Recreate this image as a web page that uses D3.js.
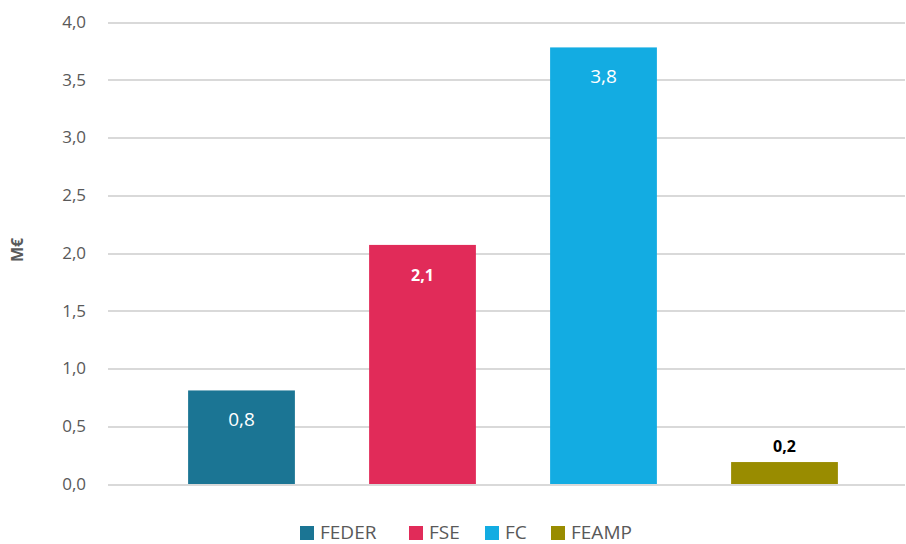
<!DOCTYPE html>
<html>
<head>
<meta charset="utf-8">
<style>
  body { margin: 0; background: #fff; }
  svg text { font-family: "Open Sans", "Noto Sans", sans-serif; }
  .grid line { stroke: #d9d9d9; stroke-width: 2; shape-rendering: crispEdges; }
  .axis text { fill: #595959; font-size: 17px; }
</style>
</head>
<body>
<script src="https://cdnjs.cloudflare.com/ajax/libs/d3/7.8.5/d3.min.js"></script>
<script>
// data
var categories = ["FEDER", "FSE", "FC", "FEAMP"];
var values = [0.81, 2.07, 3.78, 0.19];
var labels = ["0,8", "2,1", "3,8", "0,2"];
var colors = ["#1b7594", "#e12b59", "#13ace2", "#998c00"];
var yTicks = [0, 0.5, 1, 1.5, 2, 2.5, 3, 3.5, 4];

var W = 906, H = 544;

var svg = d3.select("body").append("svg")
  .attr("width", W).attr("height", H);

// scales
var x = d3.scaleBand().domain(categories).range([151, 875])
  .paddingInner(0.41).paddingOuter(0.205);
var y = d3.scaleLinear().domain([0, 4]).range([484, 22]);

// gridlines
svg.append("g").attr("class", "grid")
  .attr("transform", "translate(108,0)")
  .call(d3.axisLeft(y).tickValues(yTicks).tickSize(-797).tickFormat(""))
  .call(function(g){ g.select(".domain").remove(); });

// y axis labels
var fmt = function(d){ return d3.format(".1f")(d).replace(".", ","); };
svg.append("g").attr("class", "axis")
  .attr("transform", "translate(86,0)")
  .call(d3.axisLeft(y).tickValues(yTicks).tickSize(0).tickPadding(0).tickFormat(fmt))
  .call(function(g){ g.select(".domain").remove(); });

svg.append("text")
  .attr("transform", "translate(23,250) rotate(-90)")
  .attr("text-anchor", "middle")
  .style("font-size", "16px").style("font-weight", "bold")
  .style("fill", "#595959")
  .text("M€");

// bars
svg.selectAll(".bar").data(categories).enter().append("rect")
  .attr("class", "bar")
  .attr("x", function(d){ return x(d); })
  .attr("width", x.bandwidth())
  .attr("y", function(d, i){ return y(values[i]); })
  .attr("height", function(d, i){ return y(0) - y(values[i]); })
  .attr("fill", function(d, i){ return colors[i]; });

// value labels
var inside = [true, true, true, false];
var bold = [false, true, false, true];
svg.selectAll(".lbl").data(categories).enter().append("text")
  .attr("class", "lbl")
  .attr("x", function(d){ return x(d) + x.bandwidth() / 2; })
  .attr("y", function(d, i){ return inside[i] ? y(values[i]) + 36 : y(values[i]) - 10; })
  .attr("text-anchor", "middle")
  .style("font-size", function(d, i){ return bold[i] ? "16px" : "19px"; })
  .style("font-weight", function(d, i){ return bold[i] ? "bold" : "normal"; })
  .style("fill", function(d, i){ return inside[i] ? "#fff" : "#000"; })
  .text(function(d, i){ return labels[i]; });

// legend
var legX = [300, 409, 485, 551];
var leg = svg.selectAll(".leg").data(categories).enter().append("g")
  .attr("class", "leg")
  .attr("transform", function(d, i){ return "translate(" + legX[i] + ",526)"; });
leg.append("rect").attr("width", 14).attr("height", 14)
  .attr("fill", function(d, i){ return colors[i]; });
leg.append("text").attr("x", 20).attr("y", 13)
  .style("font-size", "19px").style("fill", "#595959")
  .text(function(d){ return d; });
</script>
</body>
</html>
